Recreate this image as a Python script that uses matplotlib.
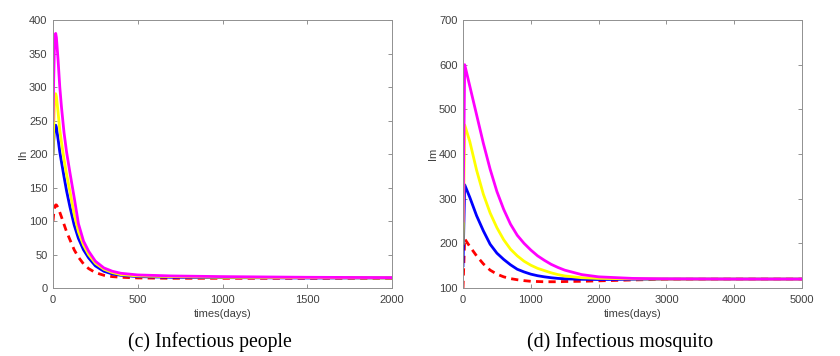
import numpy as np
import matplotlib
matplotlib.use("Agg")
import matplotlib.pyplot as plt

# ─── Data ─────────────────────────────────────────────────────────────────────
# (c) infectious people, Ih
T_IH = [0, 4, 8, 12, 16, 20, 30, 40, 50, 65, 80, 100, 125, 150, 180, 210,
        250, 300, 350, 400, 500, 700, 1000, 1500, 2000]
IH_RED = [100, 110, 118, 122, 124, 124, 120, 113, 106, 95, 84, 72, 57, 46,
          36, 29, 23, 19, 17, 16, 15, 14.5, 14.5, 14.5, 14.5]
IH_BLUE = [200, 220, 235, 242, 243, 240, 222, 203, 188, 166, 145, 121, 94,
           74, 57, 45, 33, 25, 21, 19, 17, 16, 15.5, 15, 15]
IH_YELLOW = [200, 240, 270, 285, 290, 286, 262, 236, 218, 192, 170, 144,
             110, 84, 64, 50, 37, 28, 23, 20, 18, 17, 16, 15.5, 15]
IH_MAGENTA = [250, 310, 355, 375, 380, 374, 340, 300, 270, 232, 203, 172,
              135, 96, 70, 55, 40, 30, 25, 22, 19.5, 18, 17, 16, 15.5]

# (d) infectious mosquito, Im
T_IM = [0, 25, 100, 200, 300, 400, 500, 600, 700, 800, 900, 1000, 1100,
        1200, 1300, 1400, 1500, 1750, 2000, 2500, 3000, 4000, 5000]
IM_RED = [100, 210, 193, 172, 154, 140, 131, 125, 121, 118.5, 116.5, 115,
          114.5, 114, 114, 114, 114.5, 115, 116, 118, 119.5, 120, 120]
IM_BLUE = [150, 331, 303, 262, 228, 198, 178, 164, 152, 142, 136, 131,
           127.5, 125, 123, 121.5, 120.5, 119.5, 119, 119.5, 120, 120, 120]
IM_YELLOW = [200, 465, 428, 364, 310, 268, 235, 208, 187, 172, 160, 151,
             144, 139, 134, 130, 127, 123, 121.5, 120.5, 120, 120, 120]
IM_MAGENTA = [250, 600, 552, 488, 424, 366, 316, 276, 243, 218, 200, 185,
              172, 162, 153, 146, 140, 130, 125, 121.5, 120.5, 120, 120]

PANELS = [
    dict(t=T_IH, series=[IH_RED, IH_BLUE, IH_YELLOW, IH_MAGENTA],
         xlim=(0, 2000), ylim=(0, 400), xticks=np.arange(0, 2001, 500),
         yticks=np.arange(0, 401, 50), ylabel="Ih",
         caption="(c) Infectious people"),
    dict(t=T_IM, series=[IM_RED, IM_BLUE, IM_YELLOW, IM_MAGENTA],
         xlim=(0, 5000), ylim=(100, 700), xticks=np.arange(0, 5001, 1000),
         yticks=np.arange(100, 701, 100), ylabel="Im",
         caption="(d) Infectious mosquito"),
]
STYLES = [
    dict(color="#ff0000", ls=(0, (2.6, 1.9)), lw=2.0),
    dict(color="#0000ff", ls="-", lw=2.0),
    dict(color="#ffff00", ls="-", lw=2.0),
    dict(color="#ff00ff", ls="-", lw=2.0),
]

plt.rcParams["font.family"] = ["Liberation Sans", "DejaVu Sans"]

fig = plt.figure(figsize=(8.4, 3.56), dpi=100)
lefts = [0.0631, 0.5512]
caption_x = [0.25, 0.738]

for left, cx, p in zip(lefts, caption_x, PANELS):
    ax = fig.add_axes([left, 0.191, 0.4036, 0.7528])
    for vals, st in zip(p["series"], STYLES):
        ax.plot(p["t"], vals, color=st["color"], linestyle=st["ls"],
                linewidth=st["lw"], solid_joinstyle="round")
    ax.set_xlim(*p["xlim"])
    ax.set_ylim(*p["ylim"])
    ax.set_xticks(p["xticks"])
    ax.set_yticks(p["yticks"])
    ax.tick_params(direction="in", top=True, right=True, length=3,
                   width=0.6, color="#808080", labelsize=8,
                   labelcolor="#404040")
    ax.tick_params(axis="x", pad=5)
    ax.tick_params(axis="y", pad=4)
    for s in ax.spines.values():
        s.set_color("#909090")
        s.set_linewidth(0.7)
    ax.set_xlabel("times(days)", fontsize=8, color="#404040", labelpad=3)
    ax.set_ylabel(p["ylabel"], fontsize=8, color="#404040", labelpad=1)
    fig.text(cx, 0.04, p["caption"], ha="center", va="center",
             fontsize=14.2, family="Liberation Serif")

plt.savefig("out.png", dpi=100)
